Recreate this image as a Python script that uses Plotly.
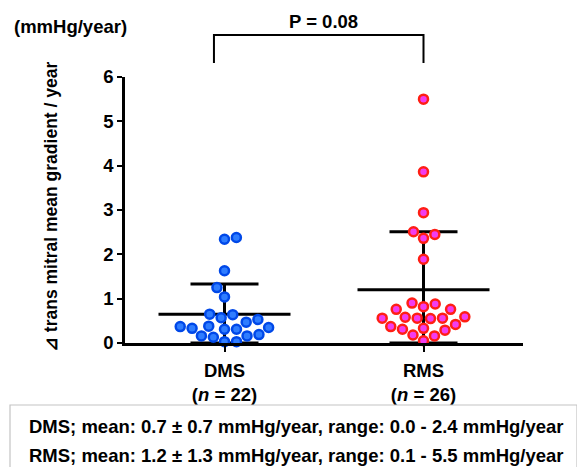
import math
import plotly.graph_objects as go

# ---------------- data ----------------
groups = ["DMS", "RMS"]
group_n = [22, 26]
dms_values = [2.38, 2.34, 1.63, 1.25, 1.04, 0.65, 0.57, 0.64, 0.53, 0.47, 0.38,
              0.35, 0.31, 0.31, 0.33, 0.37, 0.16, 0.13, 0.16, 0.19, 0.03, 0.03]
rms_values = [5.50, 3.86, 2.94, 2.51, 2.45, 2.36, 1.89, 0.90, 0.82, 0.76, 0.76,
              0.88, 0.58, 0.56, 0.55, 0.56, 0.56, 0.59, 0.37, 0.31, 0.42, 0.29,
              0.33, 0.18, 0.16, 0.05]
group_means = [0.65, 1.20]
group_sds = [0.68, 1.31]
y_ticks = [0, 1, 2, 3, 4, 5, 6]
p_text = "P = 0.08"
summary_lines = [
    "DMS; mean: 0.7 \u00b1 0.7 mmHg/year, range: 0.0 - 2.4 mmHg/year",
    "RMS; mean: 1.2 \u00b1 1.3 mmHg/year, range: 0.1 - 5.5 mmHg/year",
]

# ---------------- layout geometry ----------------
PAGE_OFF = 8                      # default body margin of the html page
W, H = 585 - PAGE_OFF, 467 - PAGE_OFF
AX_L, AX_R, AX_T, AX_B = 125, 523, 77, 343   # plot area in page pixels
ML, MT = AX_L - PAGE_OFF, AX_T - PAGE_OFF
MR, MB = W - (AX_R - PAGE_OFF), H - (AX_B - PAGE_OFF)
PW, PH = AX_R - AX_L, AX_B - AX_T
X_RANGE = [0.5, 2.5]
Y_RANGE = [0, 6]
SX = PW / (X_RANGE[1] - X_RANGE[0])   # px per x unit
SY = PH / (Y_RANGE[1] - Y_RANGE[0])   # px per y unit
FONT = "Liberation Sans, Arial, Helvetica, sans-serif"
FS = 18.5


def px_to_paper_x(px):
    return (px - AX_L) / PW


def px_to_paper_y(py):
    return (AX_B - py) / PH


def swarm_offsets(values, d=12.0):
    """Greedy beeswarm: offsets (in x data units) so markers don't overlap."""
    n = len(values)
    order = sorted(range(n), key=lambda i: values[i])
    placed = []
    offs = [0.0] * n
    for i in order:
        y = values[i] * SY
        cands = [0.0]
        for (px, py) in placed:
            dy = abs(py - y)
            if dy < d:
                dx = math.sqrt(d * d - dy * dy)
                cands += [px - dx, px + dx]
        left = sum(1 for p in placed if p[0] < -0.5)
        right = sum(1 for p in placed if p[0] > 0.5)
        prefer_left = right > left
        cands.sort(key=lambda c: (round(abs(c), 3), (c > 0) if prefer_left else (c < 0)))
        best = cands[-1]
        for c in cands:
            if all((c - px) ** 2 + (y - py) ** 2 >= d * d - 1e-6 for px, py in placed):
                best = c
                break
        placed.append((best, y))
        offs[i] = best / SX
    return offs


fig = go.Figure()

# mean line + SD bar
centers = [1, 2]
fig.add_trace(go.Scatter(
    x=centers, y=group_means, mode="markers",
    marker=dict(size=1, color="rgba(0,0,0,0)"),
    error_x=dict(type="constant", value=66 / SX, width=0, thickness=3, color="black"),
    error_y=dict(type="data", array=group_sds, arrayminus=group_means,
                 symmetric=False, width=34, thickness=3, color="black"),
    hoverinfo="skip", showlegend=False, cliponaxis=False,
))

dms_off = swarm_offsets(dms_values)
rms_off = swarm_offsets(rms_values)

fig.add_trace(go.Scatter(
    x=[centers[0] + o for o in dms_off], y=dms_values, mode="markers",
    marker=dict(size=9, color="#2F7DFF", line=dict(color="#0048E8", width=2.5)),
    showlegend=False, cliponaxis=False,
))
fig.add_trace(go.Scatter(
    x=[centers[1] + o for o in rms_off], y=rms_values, mode="markers",
    marker=dict(size=9, color="#F23CF0", line=dict(color="#FF1E14", width=2.5)),
    showlegend=False, cliponaxis=False,
))

tick_text = [f"<b>{g}</b><br><b>(<i>n</i> = {n})</b>" for g, n in zip(groups, group_n)]

fig.update_layout(
    width=W, height=H,
    margin=dict(l=ML, r=MR, t=MT, b=MB, pad=0, autoexpand=False),
    paper_bgcolor="white", plot_bgcolor="white",
    font=dict(family=FONT, size=FS, color="black"),
    xaxis=dict(range=X_RANGE, tickmode="array", tickvals=centers, ticktext=tick_text,
               showline=True, linecolor="black", linewidth=2.5, ticks="outside",
               ticklen=6, tickwidth=2, tickcolor="black", showgrid=False,
               zeroline=False, fixedrange=True, ticklabelstandoff=3),
    yaxis=dict(range=Y_RANGE, tickmode="array", tickvals=y_ticks,
               ticktext=[f"<b>{v}</b>" for v in y_ticks],
               showline=True, linecolor="black", linewidth=2.5, ticks="outside",
               ticklen=5, tickwidth=2, tickcolor="black", showgrid=False,
               zeroline=False, fixedrange=True),
)

annotations = [
    dict(text="<b>(mmHg/year)</b>", x=px_to_paper_x(70), y=px_to_paper_y(26),
         xref="paper", yref="paper", showarrow=False, xanchor="center", yanchor="middle",
         font=dict(size=FS)),
    dict(text=f"<b>{p_text}</b>", x=px_to_paper_x(323), y=px_to_paper_y(22),
         xref="paper", yref="paper", showarrow=False, xanchor="center", yanchor="middle",
         font=dict(size=FS)),
    dict(text="<b>\u22bf trans mitral mean gradient / year</b>", textangle=-90,
         x=px_to_paper_x(51), y=px_to_paper_y(207), xref="paper", yref="paper",
         showarrow=False, xanchor="center", yanchor="middle", font=dict(size=17.5)),
]
for k, line in enumerate(summary_lines):
    annotations.append(dict(text=f"<b>{line}</b>", x=px_to_paper_x(296),
                            y=px_to_paper_y(426 + 29 * k), xref="paper", yref="paper",
                            showarrow=False, xanchor="center", yanchor="middle",
                            font=dict(size=FS)))
fig.update_layout(annotations=annotations)

shapes = [
    # significance bracket
    dict(type="path", xref="x", yref="paper",
         path=(f"M {0.947},{px_to_paper_y(63)} L {0.947},{px_to_paper_y(35)} "
               f"L {2.0},{px_to_paper_y(35)} L {2.0},{px_to_paper_y(63)}"),
         line=dict(color="black", width=2)),
    # summary box
    dict(type="rect", xref="paper", yref="paper",
         x0=px_to_paper_x(10), x1=px_to_paper_x(577),
         y0=px_to_paper_y(405), y1=px_to_paper_y(500),
         line=dict(color="#c4c4c4", width=1.2), fillcolor="rgba(0,0,0,0)"),
]
fig.update_layout(shapes=shapes)

fig.write_html("out.html")
